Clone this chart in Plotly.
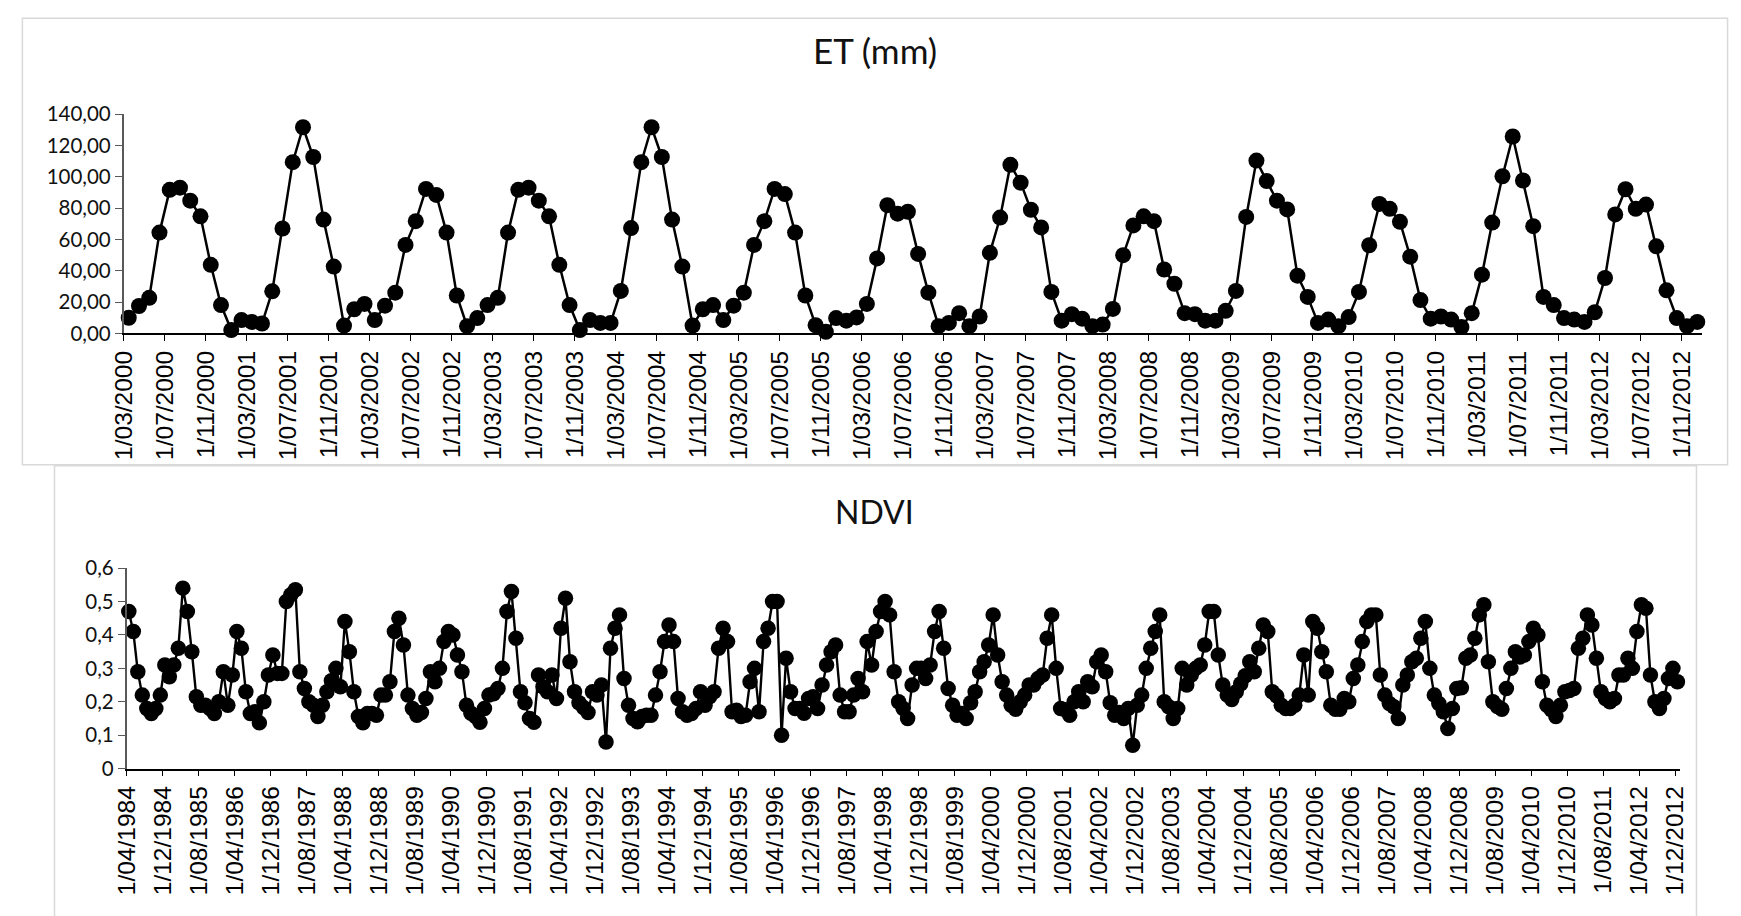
import plotly.graph_objects as go

# ---------------- data ----------------
et_start = (2000, 3)  # first month of the ET series (March 2000)
et_values = [
    10.0, 17.5, 22.7, 64.4, 91.7, 93.1, 84.8, 74.8, 43.8, 18.1,
    2.1, 8.5, 7.3, 6.3, 26.9, 67.0, 109.4, 131.7, 112.7, 72.7, 42.7, 5.0,
    15.4, 18.8, 8.5, 17.7, 26.0, 56.5, 71.7, 92.3, 88.5, 64.4, 24.2, 4.6,
    9.8, 18.1, 22.7, 64.4, 91.7, 93.1, 84.8, 74.8, 43.8, 18.1, 2.1, 8.5,
    6.7, 6.7, 27.1, 67.3, 109.4, 131.7, 112.7, 72.7, 42.7, 5.0, 15.4, 18.1,
    8.5, 17.7, 26.0, 56.5, 71.7, 92.3, 89.0, 64.4, 24.2, 5.2, 1.0, 9.8,
    8.1, 10.2, 18.8, 47.9, 81.9, 76.5, 77.7, 50.8, 26.0, 4.6, 6.7, 12.9,
    4.6, 10.8, 51.5, 74.0, 107.7, 96.3, 79.0, 67.7, 26.5, 8.1, 12.3, 9.4,
    4.6, 5.6, 15.6, 50.0, 69.0, 74.8, 71.7, 40.8, 31.7, 12.9, 12.3, 8.1,
    8.1, 14.4, 27.1, 74.4, 110.4, 97.3, 84.8, 79.2, 36.9, 23.3, 6.7, 8.8,
    4.6, 10.4, 26.5, 56.3, 82.7, 79.6, 71.3, 49.0, 21.3, 9.4, 10.8, 8.8,
    4.0, 12.9, 37.5, 70.8, 100.4, 125.8, 97.7, 68.5, 23.3, 18.1, 9.8, 8.8,
    7.3, 13.5, 35.4, 76.0, 92.1, 79.6, 82.3, 55.6, 27.5, 9.8, 4.6, 7.3,
]
et_end = (2013, 1)
et_ticklabels = [
    "1/03/2000", "1/07/2000", "1/11/2000", "1/03/2001", "1/07/2001", "1/11/2001",
    "1/03/2002", "1/07/2002", "1/11/2002", "1/03/2003", "1/07/2003", "1/11/2003",
    "1/03/2004", "1/07/2004", "1/11/2004", "1/03/2005", "1/07/2005", "1/11/2005",
    "1/03/2006", "1/07/2006", "1/11/2006", "1/03/2007", "1/07/2007", "1/11/2007",
    "1/03/2008", "1/07/2008", "1/11/2008", "1/03/2009", "1/07/2009", "1/11/2009",
    "1/03/2010", "1/07/2010", "1/11/2010", "1/03/2011", "1/07/2011", "1/11/2011",
    "1/03/2012", "1/07/2012", "1/11/2012",
]
et_yticks = [0, 20, 40, 60, 80, 100, 120, 140]
et_yticklabels = ["0,00", "20,00", "40,00", "60,00", "80,00", "100,00", "120,00", "140,00"]

ndvi_start = (1984, 4)  # first month of the NDVI series (April 1984)
ndvi_values = [
    0.47, 0.41, 0.29, 0.22, 0.18, 0.165, 0.18, 0.22, 0.31, 0.275,
    0.31, 0.36, 0.54, 0.47, 0.35, 0.215, 0.19, 0.19, 0.18, 0.165,
    0.20, 0.29, 0.19, 0.28, 0.41, 0.36, 0.23, 0.165, 0.17, 0.137,
    0.20, 0.28, 0.34, 0.285, 0.285, 0.50, 0.52, 0.535, 0.29, 0.24,
    0.20, 0.19, 0.156, 0.19, 0.23, 0.263, 0.30, 0.245, 0.44, 0.35,
    0.23, 0.156, 0.137, 0.165, 0.165, 0.16, 0.22, 0.22, 0.26, 0.41,
    0.45, 0.37, 0.22, 0.18, 0.16, 0.168, 0.21, 0.29, 0.26, 0.30,
    0.38, 0.41, 0.40, 0.34, 0.29, 0.19, 0.166, 0.156, 0.139, 0.18,
    0.22, 0.224, 0.24, 0.30, 0.47, 0.53, 0.39, 0.23, 0.197, 0.15,
    0.139, 0.28, 0.245, 0.23, 0.28, 0.21, 0.42, 0.51, 0.32, 0.23,
    0.197, 0.183, 0.168, 0.23, 0.22, 0.25, 0.08, 0.36, 0.42, 0.46,
    0.27, 0.19, 0.15, 0.14, 0.156, 0.16, 0.16, 0.22, 0.29, 0.38,
    0.43, 0.38, 0.21, 0.17, 0.16, 0.165, 0.18, 0.23, 0.19, 0.215,
    0.23, 0.36, 0.42, 0.38, 0.17, 0.175, 0.156, 0.16, 0.26, 0.30,
    0.17, 0.38, 0.42, 0.50, 0.50, 0.10, 0.33, 0.23, 0.18, 0.18,
    0.166, 0.21, 0.215, 0.18, 0.25, 0.31, 0.35, 0.37, 0.22, 0.17,
    0.17, 0.22, 0.27, 0.23, 0.38, 0.31, 0.41, 0.47, 0.50, 0.46,
    0.29, 0.20, 0.18, 0.15, 0.25, 0.30, 0.30, 0.27, 0.31, 0.41,
    0.47, 0.36, 0.24, 0.19, 0.16, 0.165, 0.15, 0.197, 0.23, 0.29,
    0.32, 0.37, 0.46, 0.34, 0.26, 0.22, 0.19, 0.178, 0.20, 0.22,
    0.25, 0.25, 0.27, 0.28, 0.39, 0.46, 0.30, 0.18, 0.176, 0.16,
    0.20, 0.23, 0.20, 0.26, 0.245, 0.32, 0.34, 0.29, 0.197, 0.16,
    0.168, 0.15, 0.18, 0.07, 0.19, 0.22, 0.30, 0.36, 0.41, 0.46,
    0.20, 0.185, 0.15, 0.18, 0.30, 0.25, 0.28, 0.30, 0.31, 0.37,
    0.47, 0.47, 0.34, 0.25, 0.22, 0.207, 0.23, 0.254, 0.278, 0.32,
    0.29, 0.36, 0.43, 0.41, 0.23, 0.217, 0.19, 0.18, 0.18, 0.19,
    0.22, 0.34, 0.22, 0.44, 0.42, 0.35, 0.29, 0.19, 0.178, 0.178,
    0.21, 0.20, 0.27, 0.31, 0.38, 0.44, 0.46, 0.46, 0.28, 0.22,
    0.195, 0.185, 0.15, 0.25, 0.28, 0.32, 0.33, 0.39, 0.44, 0.30,
    0.22, 0.195, 0.17, 0.12, 0.18, 0.24, 0.242, 0.33, 0.34, 0.39,
    0.46, 0.49, 0.32, 0.20, 0.186, 0.178, 0.24, 0.30, 0.35, 0.334,
    0.34, 0.38, 0.42, 0.40, 0.26, 0.19, 0.176, 0.156, 0.19, 0.23,
    0.234, 0.24, 0.36, 0.39, 0.46, 0.43, 0.33, 0.23, 0.21, 0.20,
    0.21, 0.28, 0.28, 0.33, 0.30, 0.41, 0.49, 0.48, 0.28, 0.20,
    0.18, 0.21, 0.27, 0.30, 0.26,
]
ndvi_end = (2013, 1)
ndvi_ticklabels = [
    "1/04/1984", "1/12/1984", "1/08/1985", "1/04/1986", "1/12/1986", "1/08/1987",
    "1/04/1988", "1/12/1988", "1/08/1989", "1/04/1990", "1/12/1990", "1/08/1991",
    "1/04/1992", "1/12/1992", "1/08/1993", "1/04/1994", "1/12/1994", "1/08/1995",
    "1/04/1996", "1/12/1996", "1/08/1997", "1/04/1998", "1/12/1998", "1/08/1999",
    "1/04/2000", "1/12/2000", "1/08/2001", "1/04/2002", "1/12/2002", "1/08/2003",
    "1/04/2004", "1/12/2004", "1/08/2005", "1/04/2006", "1/12/2006", "1/08/2007",
    "1/04/2008", "1/12/2008", "1/08/2009", "1/04/2010", "1/12/2010", "1/08/2011",
    "1/04/2012", "1/12/2012",
]
ndvi_yticks = [0, 0.1, 0.2, 0.3, 0.4, 0.5, 0.6]
ndvi_yticklabels = ["0", "0,1", "0,2", "0,3", "0,4", "0,5", "0,6"]


# ---------------- helpers ----------------
def months_between(start, ym):
    return (ym[0] - start[0]) * 12 + (ym[1] - start[1])


def label_pos(label, start):
    _, m, y = label.split("/")
    return months_between(start, (int(y), int(m)))


W, H = 1741, 916


def fx(px):
    return px / W


def fy(py):
    return 1 - py / H


XFONT = dict(family="Liberation Sans, Arial, sans-serif", size=24.5, color="#000000")
YFONT = dict(family="Lato, Calibri, sans-serif", size=20.5, color="#111111")

fig = go.Figure()

fig.add_trace(go.Scatter(
    x=[i + 0.5 for i in range(len(et_values))], y=et_values,
    xaxis="x", yaxis="y", mode="lines+markers",
    line=dict(color="#000000", width=2.5),
    marker=dict(size=16, color="#000000"),
    cliponaxis=False, hoverinfo="skip", showlegend=False,
))
fig.add_trace(go.Scatter(
    x=[i + 0.5 for i in range(len(ndvi_values))], y=ndvi_values,
    xaxis="x2", yaxis="y2", mode="lines+markers",
    line=dict(color="#000000", width=2.4),
    marker=dict(size=15.5, color="#000000"),
    cliponaxis=False, hoverinfo="skip", showlegend=False,
))

common_x = dict(
    tickangle=-90, ticks="outside", ticklen=6, tickwidth=1.3, tickcolor="#000000",
    showline=True, linecolor="#000000", linewidth=1.5,
    showgrid=False, zeroline=False, tickfont=XFONT, fixedrange=True,
)
common_y = dict(
    ticks="outside", ticklen=7, tickwidth=1.3, tickcolor="#595959",
    showline=True, linecolor="#595959", linewidth=1.5,
    showgrid=False, zeroline=False, tickfont=YFONT, fixedrange=True,
)

fig.update_layout(
    width=W, height=H, autosize=False,
    margin=dict(l=0, r=0, t=0, b=0),
    paper_bgcolor="#ffffff", plot_bgcolor="rgba(0,0,0,0)",
    showlegend=False,
    xaxis=dict(
        domain=[fx(111), fx(1710)], anchor="y",
        range=[0, months_between(et_start, et_end)],
        tickvals=[label_pos(t, et_start) for t in et_ticklabels],
        ticktext=et_ticklabels, **common_x,
    ),
    yaxis=dict(
        domain=[fy(329), fy(104)], anchor="x", range=[0, 140],
        tickvals=et_yticks, ticktext=et_yticklabels, **common_y,
    ),
    xaxis2=dict(
        domain=[fx(114), fx(1687)], anchor="y2",
        range=[0, months_between(ndvi_start, ndvi_end)],
        tickvals=[label_pos(t, ndvi_start) for t in ndvi_ticklabels],
        ticktext=ndvi_ticklabels, **common_x,
    ),
    yaxis2=dict(
        domain=[fy(776), fy(570)], anchor="x2", range=[0, 0.6],
        tickvals=ndvi_yticks, ticktext=ndvi_yticklabels, **common_y,
    ),
    shapes=[
        dict(type="rect", xref="paper", yref="paper",
             x0=fx(41), x1=fx(1704), y0=fy(960), y1=fy(465),
             line=dict(color="#D9D9D9", width=1.5), fillcolor="rgba(0,0,0,0)", layer="below"),
        dict(type="rect", xref="paper", yref="paper",
             x0=fx(8.5), x1=fx(1735.5), y0=fy(464), y1=fy(5.5),
             line=dict(color="#D9D9D9", width=1.5), fillcolor="#ffffff", layer="below"),
    ],
    annotations=[
        dict(text="ET (mm)", xref="paper", yref="paper", x=fx(872), y=fy(38),
             xanchor="center", yanchor="middle", showarrow=False,
             font=dict(family="Lato, Calibri, sans-serif", size=35, color="#111111")),
        dict(text="NDVI", xref="paper", yref="paper", x=fx(872), y=fy(512),
             xanchor="center", yanchor="middle", showarrow=False,
             font=dict(family="Lato, Calibri, sans-serif", size=32, color="#111111")),
    ],
)

fig.write_html("out.html")
